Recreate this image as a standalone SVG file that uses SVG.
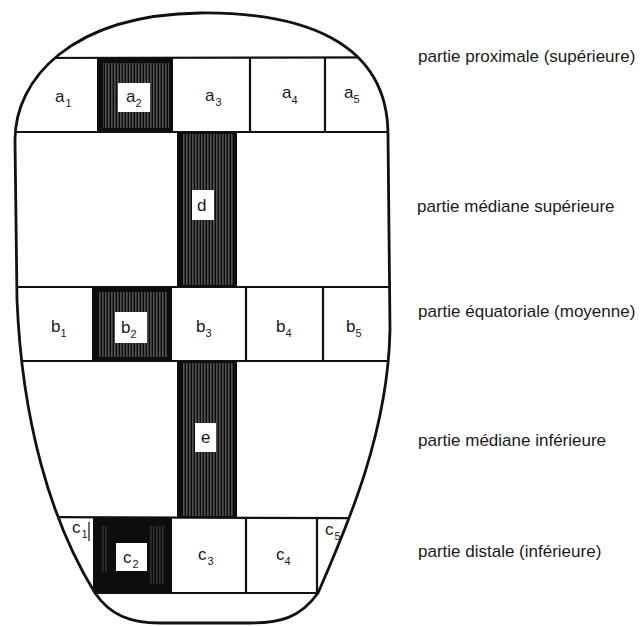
<svg xmlns="http://www.w3.org/2000/svg" width="642" height="626" viewBox="0 0 642 626">
<defs>
<style>
.ln{stroke:#111;stroke-width:2.2;fill:none}
.ol{stroke:#111;stroke-width:2.8;fill:none;stroke-linejoin:round}
.lbl{font-family:"Liberation Sans",Arial,sans-serif;font-size:17px;fill:#1a1a1a}
.sub{font-size:11px}
.side{font-family:"Liberation Sans",Arial,sans-serif;font-size:17px;fill:#1a1a1a}
.box{fill:#fff}
.dark{fill:#0d0d0d}
</style>
<pattern id="hatch" width="3" height="10" patternUnits="userSpaceOnUse">
<rect width="3" height="10" fill="#0d0d0d"/>
<rect x="0.5" width="0.8" height="10" fill="#fff" opacity="0.55"/>
</pattern>
<clipPath id="body">
<path d="M 15,140 C 15,80 70,15 200,13 C 300,12 388,40 388,135 L 390,330 C 388,430 350,520 318,593 C 300,618 280,623 250,623 L 160,623 C 130,623 110,615 95,593 C 50,520 22,420 17,300 Z"/>
</clipPath>
</defs>
<rect width="642" height="626" fill="#fff"/>
<g id="interior" clip-path="url(#body)">
<g id="dark-cells">
<g id="a2"><rect class="dark" x="97" y="58" width="76" height="74"/><rect x="103" y="63" width="66" height="65" fill="url(#hatch)"/><rect class="box" x="118" y="83" width="32" height="29"/></g>
<g id="d"><rect class="dark" x="177" y="132" width="60" height="155"/><rect x="182" y="134" width="51" height="151" fill="url(#hatch)"/><rect class="box" x="192" y="190" width="22" height="30"/></g>
<g id="b2"><rect class="dark" x="92" y="287" width="80" height="74"/><rect x="98" y="292" width="70" height="65" fill="url(#hatch)"/><rect class="box" x="115" y="312" width="32" height="31"/></g>
<g id="e"><rect class="dark" x="177" y="361" width="60" height="157"/><rect x="182" y="363" width="51" height="153" fill="url(#hatch)"/><rect class="box" x="195" y="423" width="21" height="29"/></g>
<g id="c2"><rect class="dark" x="93" y="518" width="79" height="75"/><rect x="101" y="526" width="6" height="46" fill="url(#hatch)" opacity="0.5"/><rect x="150" y="526" width="15" height="58" fill="url(#hatch)" opacity="0.5"/><rect class="box" x="116" y="543" width="31" height="28"/></g>
</g>
<g id="grid-lines">
<line class="ln" x1="0" y1="58" x2="642" y2="57"/>
<line class="ln" x1="0" y1="132" x2="642" y2="132"/>
<line class="ln" x1="0" y1="287" x2="642" y2="287"/>
<line class="ln" x1="0" y1="361" x2="642" y2="361"/>
<line class="ln" x1="0" y1="517" x2="642" y2="519"/>
<line class="ln" x1="0" y1="593" x2="642" y2="593"/>
<line class="ln" x1="250" y1="58" x2="250" y2="132"/>
<line class="ln" x1="325" y1="58" x2="325" y2="132"/>
<line class="ln" x1="246" y1="287" x2="246" y2="361"/>
<line class="ln" x1="323" y1="287" x2="323" y2="361"/>
<line class="ln" x1="246" y1="518" x2="246" y2="593"/>
<line class="ln" x1="317" y1="518" x2="317" y2="593"/>
<line stroke="#111" stroke-width="1.2" x1="89" y1="522" x2="89" y2="541"/>
<line stroke="#111" stroke-width="1.2" x1="344" y1="534" x2="342" y2="545"/>
</g>
</g>
<path id="outline" class="ol" d="M 15,140 C 15,80 70,15 200,13 C 300,12 388,40 388,135 L 390,330 C 388,430 350,520 318,593 C 300,618 280,623 250,623 L 160,623 C 130,623 110,615 95,593 C 50,520 22,420 17,300 Z"/>
<g id="cell-labels">
<g id="lbl-a1"><text class="lbl" x="55" y="102">a<tspan class="sub" dx="1" dy="5">1</tspan></text></g>
<g id="lbl-a2"><text class="lbl" x="126" y="102">a<tspan class="sub" dx="0" dy="5">2</tspan></text></g>
<g id="lbl-a3"><text class="lbl" x="205" y="101">a<tspan class="sub" dx="1" dy="5">3</tspan></text></g>
<g id="lbl-a4"><text class="lbl" x="282" y="98">a<tspan class="sub" dx="0" dy="6">4</tspan></text></g>
<g id="lbl-a5"><text class="lbl" x="344" y="98">a<tspan class="sub" dx="0" dy="5">5</tspan></text></g>
<g id="lbl-d"><text class="lbl" x="197" y="211">d</text></g>
<g id="lbl-b1"><text class="lbl" x="51" y="332">b<tspan class="sub" dx="0" dy="5">1</tspan></text></g>
<g id="lbl-b2"><text class="lbl" x="121" y="333">b<tspan class="sub" dx="0" dy="5">2</tspan></text></g>
<g id="lbl-b3"><text class="lbl" x="196" y="332">b<tspan class="sub" dx="0" dy="5">3</tspan></text></g>
<g id="lbl-b4"><text class="lbl" x="276" y="332">b<tspan class="sub" dx="0" dy="5">4</tspan></text></g>
<g id="lbl-b5"><text class="lbl" x="346" y="332">b<tspan class="sub" dx="0" dy="5">5</tspan></text></g>
<g id="lbl-e"><text class="lbl" x="201" y="443">e</text></g>
<g id="lbl-c1"><text class="lbl" x="72" y="533">c<tspan class="sub" dx="1" dy="5">1</tspan></text></g>
<g id="lbl-c2"><text class="lbl" x="123" y="563">c<tspan class="sub" dx="1" dy="5">2</tspan></text></g>
<g id="lbl-c3"><text class="lbl" x="198" y="560">c<tspan class="sub" dx="1" dy="5">3</tspan></text></g>
<g id="lbl-c4"><text class="lbl" x="276" y="560">c<tspan class="sub" dx="0" dy="5">4</tspan></text></g>
<g id="lbl-c5"><text class="lbl" x="325" y="535">c<tspan class="sub" dx="1" dy="5">5</tspan></text></g>
</g>
<g id="side-labels">
<g id="zone-proximale"><text class="side" x="418" y="62">partie proximale (supérieure)</text></g>
<g id="zone-mediane-sup"><text class="side" x="417" y="212">partie médiane supérieure</text></g>
<g id="zone-equatoriale"><text class="side" x="418" y="317">partie équatoriale (moyenne)</text></g>
<g id="zone-mediane-inf"><text class="side" x="418" y="446">partie médiane inférieure</text></g>
<g id="zone-distale"><text class="side" x="418" y="557">partie distale (inférieure)</text></g>
</g>
</svg>
